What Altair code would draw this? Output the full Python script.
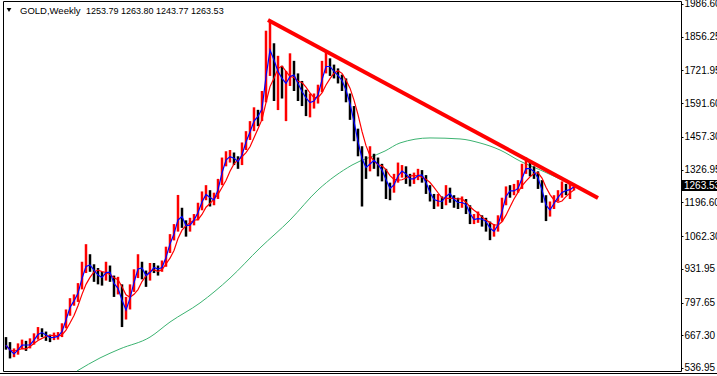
import altair as alt
import pandas as pd

close = [628, 589, 597, 621, 635, 622, 636, 660, 680, 676,
         660, 656, 662, 664, 700, 756, 800, 808, 860, 927,
         955, 939, 915, 899, 895, 939, 899, 848, 860, 756,
         780, 848, 907, 955, 915, 895, 939, 935, 927, 947,
         1007, 1055, 1087, 1166, 1114, 1094, 1118, 1134, 1178, 1218,
         1238, 1194, 1218, 1274, 1353, 1377, 1380, 1365, 1353, 1417,
         1457, 1497, 1544, 1533, 1604, 1791, 1815, 1712, 1724, 1656,
         1684, 1712, 1696, 1644, 1632, 1592, 1596, 1604, 1644, 1724,
         1751, 1724, 1712, 1692, 1672, 1616, 1564, 1473, 1405, 1337,
         1333, 1365, 1362, 1333, 1317, 1258, 1246, 1286, 1317, 1325,
         1294, 1286, 1294, 1313, 1298, 1254, 1218, 1198, 1206, 1194,
         1246, 1218, 1198, 1194, 1198, 1178, 1126, 1130, 1134, 1126,
         1114, 1075, 1087, 1126, 1194, 1246, 1238, 1246, 1258, 1325,
         1337, 1325, 1313, 1274, 1218, 1154, 1178, 1206, 1226, 1246,
         1240, 1253.79, 1263.53]

high = [660, 640, 615, 635, 650, 645, 655, 675, 700, 695,
        682, 670, 678, 680, 715, 770, 815, 830, 875, 960,
        1030, 990, 950, 935, 920, 960, 945, 905, 900, 870,
        820, 870, 930, 990, 960, 925, 955, 955, 945, 965,
        1020, 1070, 1110, 1226, 1175, 1125, 1135, 1150, 1195, 1240,
        1265, 1245, 1235, 1290, 1375, 1400, 1405, 1395, 1380, 1435,
        1480, 1520, 1575, 1565, 1640, 1880, 1921, 1830, 1780, 1740,
        1720, 1790, 1760, 1710, 1680, 1645, 1630, 1630, 1665, 1760,
        1795, 1770, 1745, 1730, 1705, 1690, 1630, 1580, 1490, 1420,
        1380, 1420, 1390, 1375, 1350, 1330, 1275, 1310, 1355, 1345,
        1340, 1310, 1315, 1330, 1325, 1305, 1265, 1230, 1230, 1220,
        1265, 1255, 1225, 1215, 1220, 1210, 1185, 1150, 1160, 1145,
        1135, 1120, 1110, 1145, 1215, 1260, 1265, 1270, 1285, 1350,
        1375, 1365, 1340, 1320, 1285, 1225, 1200, 1225, 1245, 1280,
        1270, 1275, 1263.80]

low = [610, 575, 580, 590, 612, 605, 615, 630, 650, 660,
       645, 640, 648, 650, 660, 695, 745, 785, 800, 850,
       915, 920, 880, 870, 865, 885, 880, 820, 830, 700,
       730, 770, 840, 895, 890, 860, 885, 915, 905, 920,
       940, 995, 1045, 1080, 1095, 1060, 1080, 1105, 1125, 1165,
       1205, 1180, 1185, 1210, 1265, 1340, 1355, 1345, 1330, 1345,
       1405, 1445, 1480, 1500, 1520, 1595, 1700, 1600, 1564, 1610,
       1520, 1660, 1640, 1600, 1580, 1540, 1535, 1570, 1590, 1635,
       1710, 1700, 1690, 1670, 1640, 1595, 1525, 1440, 1380, 1180,
       1290, 1320, 1330, 1300, 1280, 1210, 1205, 1235, 1275, 1295,
       1270, 1260, 1270, 1285, 1275, 1230, 1200, 1170, 1180, 1170,
       1185, 1195, 1175, 1170, 1175, 1150, 1110, 1110, 1115, 1100,
       1080, 1046, 1060, 1080, 1120, 1185, 1215, 1225, 1235, 1250,
       1310, 1300, 1290, 1250, 1195, 1122, 1140, 1170, 1200, 1215,
       1225, 1210, 1243.77]

green_idx = [17.75, 23.5, 28.5, 36, 41, 48.5, 56, 63.5, 71, 78,
             86.5, 94.75, 98.5, 106, 113.5, 118.5, 123.5, 128.5, 134.75, 142]
green_val = [525, 577, 613, 660, 720, 796, 895, 1015, 1126, 1246,
             1345, 1401, 1433, 1453, 1449, 1433, 1405, 1361, 1317, 1263]

trend_idx = [65.5, 148]
trend_val = [1922.7, 1213.9]

y_ticks = [536.95, 667.30, 797.65, 931.95, 1062.30, 1196.60,
           1326.95, 1457.30, 1591.60, 1721.95, 1856.25, 1986.60]

symbol_label = "GOLD,Weekly"
header_ohlc = [1253.79, 1263.80, 1243.77, 1263.53]
last_price = 1263.53

# ---- tables ----
bars = pd.DataFrame({"i": list(range(len(close))), "close": close,
                     "high": high, "low": low})
green = pd.DataFrame({"i": green_idx, "v": green_val})
trend = pd.DataFrame({"i": trend_idx, "v": trend_val})
last_df = pd.DataFrame({"p": [last_price], "t": [f"{last_price:.2f}"]})
head_df = pd.DataFrame({"a": [symbol_label],
                        "b": [" ".join(f"{v:.2f}" for v in header_ohlc)]})

W, H = 678, 370
FONT = "Liberation Sans"

xs = alt.Scale(domain=[-0.75, 168.75], nice=False, zero=False)
ys = alt.Scale(domain=[525, 1998.3], nice=False, zero=False)
y_axis = alt.Axis(orient="right", values=y_ticks, format=".2f", grid=False,
                  domain=False, tickSize=2, tickColor="black", labelPadding=1,
                  labelFont=FONT, labelFontSize=10, labelColor="black",
                  labelOverlap=False, title=None)


def X(f):
    return alt.X(f, type="quantitative", scale=xs, axis=None)


def Y(f):
    return alt.Y(f, type="quantitative", scale=ys, axis=y_axis)


green_line = alt.Chart(green).mark_line(
    color="#3CB371", strokeWidth=1, interpolate="monotone"
).encode(x=X("i"), y=Y("v"))

base = alt.Chart(bars).transform_window(
    open="lag(close)", sort=[alt.SortField("i")]
).transform_window(
    blue="mean(close)", frame=[-1, 0], sort=[alt.SortField("i")]
).transform_window(
    red="mean(close)", frame=[-4, 0], sort=[alt.SortField("i")]
).transform_calculate(
    dir="datum.open != null && datum.close >= datum.open ? 'up' : 'down'"
)

bar_rules = base.mark_rule(strokeWidth=2.5).encode(
    x=X("i"), y=Y("low"), y2="high",
    color=alt.Color("dir:N", scale=alt.Scale(domain=["up", "down"],
                                             range=["#FF0000", "#000000"]),
                    legend=None),
)

red_ma = base.mark_line(color="#FF0000", strokeWidth=1.2).encode(
    x=X("i"), y=Y("red"))
blue_ma = base.mark_line(color="#0000FF", strokeWidth=1.2).encode(
    x=X("i"), y=Y("blue"))

trend_line = alt.Chart(trend).mark_line(
    color="#FF0000", strokeWidth=4).encode(x=X("i"), y=Y("v"))

price_box = alt.Chart(last_df).mark_tick(
    orient="horizontal", size=38, thickness=11, color="black", opacity=1
).encode(x=alt.value(697), y=Y("p"))
price_txt = alt.Chart(last_df).mark_text(
    align="left", baseline="middle", color="white", font=FONT, fontSize=10
).encode(x=alt.value(681), y=Y("p"), text="t:N")

tri = alt.Chart(head_df).mark_point(
    shape="triangle-down", filled=True, size=22, color="black", opacity=1
).encode(x=alt.value(6), y=alt.value(9))
head_a = alt.Chart(head_df).mark_text(
    align="left", baseline="middle", color="black", font=FONT, fontSize=9.5
).encode(x=alt.value(17), y=alt.value(9.5), text="a:N")
head_b = alt.Chart(head_df).mark_text(
    align="left", baseline="middle", color="black", font=FONT, fontSize=9
).encode(x=alt.value(83), y=alt.value(9.5), text="b:N")

bottom_rule = alt.Chart(head_df).mark_rule(color="black", strokeWidth=1).encode(
    x=alt.value(-3), x2=alt.value(714), y=alt.value(372.5))

chart = alt.layer(
    green_line, bar_rules, red_ma, blue_ma, trend_line,
    price_box, price_txt, tri, head_a, head_b, bottom_rule
).properties(
    width=W, height=H,
    autosize="none",
    padding={"left": 3, "top": 1, "right": 36, "bottom": 5},
    background="white",
).configure_view(stroke="black", strokeWidth=1)

chart.save("out.html", embed_options={"renderer": "svg", "actions": False})
